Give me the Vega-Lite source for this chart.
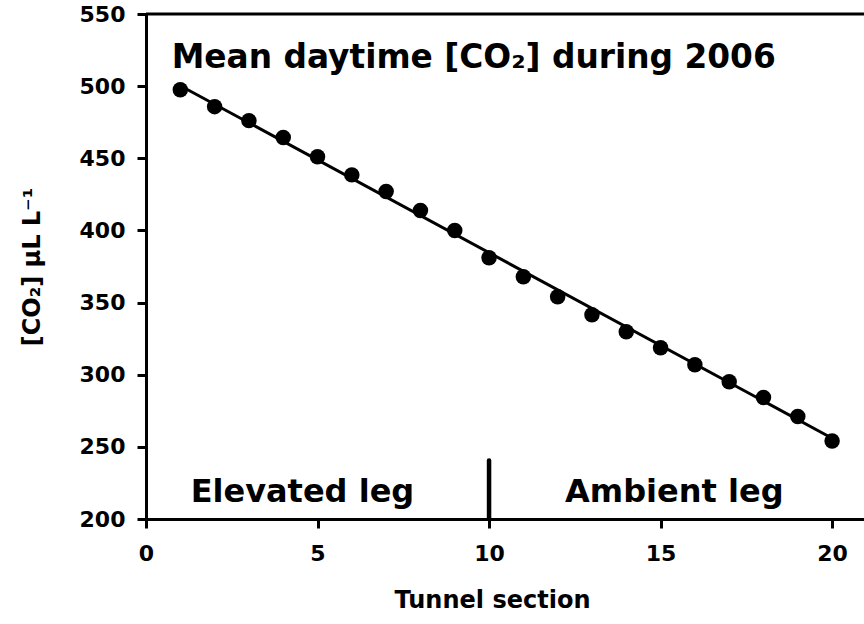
{
  "$schema": "https://vega.github.io/schema/vega-lite/v6.json",
  "width": 718,
  "height": 505,
  "autosize": {"type": "none"},
  "padding": {"left": 146, "top": 14, "right": 0, "bottom": 105},
  "background": "white",
  "data": {"values": [{}]},
  "config": {
    "view": {"stroke": null},
    "font": "DejaVu Sans",
    "axis": {
      "domainColor": "black",
      "domainWidth": 3,
      "tickColor": "black",
      "tickWidth": 3,
      "tickSize": 9,
      "grid": false,
      "labelFont": "DejaVu Sans",
      "labelFontWeight": "bold",
      "labelFontSize": 22,
      "labelColor": "black",
      "labelFlush": false,
      "titleFont": "DejaVu Sans",
      "titleFontWeight": "bold",
      "titleFontSize": 24,
      "titleColor": "black"
    }
  },
  "datasets": {
    "co2": [
      {"section": 1, "co2": 497.5},
      {"section": 2, "co2": 485.8},
      {"section": 3, "co2": 476.1},
      {"section": 4, "co2": 464.4},
      {"section": 5, "co2": 451.0},
      {"section": 6, "co2": 438.5},
      {"section": 7, "co2": 427.0},
      {"section": 8, "co2": 413.8},
      {"section": 9, "co2": 399.9},
      {"section": 10, "co2": 381.0},
      {"section": 11, "co2": 367.9},
      {"section": 12, "co2": 354.0},
      {"section": 13, "co2": 341.5},
      {"section": 14, "co2": 329.8},
      {"section": 15, "co2": 318.7},
      {"section": 16, "co2": 306.9},
      {"section": 17, "co2": 295.1},
      {"section": 18, "co2": 284.2},
      {"section": 19, "co2": 271.0},
      {"section": 20, "co2": 254.0}
    ],
    "fit": [
      {"section": 1, "co2": 500.3},
      {"section": 20, "co2": 256.0}
    ]
  },
  "encoding": {
    "x": {
      "type": "quantitative",
      "scale": {"domain": [0, 20.93], "nice": false, "zero": false},
      "axis": {"values": [0, 5, 10, 15, 20], "title": "Tunnel section", "labelPadding": 15, "titlePadding": 24, "titleX": 346}
    },
    "y": {
      "type": "quantitative",
      "scale": {"domain": [200, 550], "nice": false, "zero": false},
      "axis": {"values": [200, 250, 300, 350, 400, 450, 500, 550], "title": "[CO₂] μL L⁻¹", "labelPadding": 12, "titlePadding": 35}
    }
  },
  "layer": [
    {
      "mark": {"type": "rule", "color": "black", "strokeWidth": 3},
      "encoding": {"y": {"datum": 550}}
    },
    {
      "data": {"name": "fit"},
      "mark": {"type": "line", "color": "black", "strokeWidth": 3},
      "encoding": {
        "x": {"field": "section", "type": "quantitative"},
        "y": {"field": "co2", "type": "quantitative"}
      }
    },
    {
      "data": {"name": "co2"},
      "mark": {"type": "point", "filled": true, "color": "black", "opacity": 1, "size": 240},
      "encoding": {
        "x": {"field": "section", "type": "quantitative"},
        "y": {"field": "co2", "type": "quantitative"}
      }
    },
    {
      "mark": {"type": "rule", "color": "black", "strokeWidth": 4.5, "strokeCap": "round"},
      "encoding": {"x": {"datum": 10}, "y": {"datum": 200}, "y2": {"datum": 240.6}}
    },
    {
      "mark": {"type": "text", "align": "center", "baseline": "alphabetic", "fontSize": 32, "fontWeight": "bold", "font": "DejaVu Sans", "color": "black", "text": "Elevated leg"},
      "encoding": {"x": {"datum": 4.56}, "y": {"datum": 212}}
    },
    {
      "mark": {"type": "text", "align": "center", "baseline": "alphabetic", "fontSize": 32, "fontWeight": "bold", "font": "DejaVu Sans", "color": "black", "text": "Ambient leg"},
      "encoding": {"x": {"datum": 15.4}, "y": {"datum": 212}}
    },
    {
      "mark": {"type": "text", "align": "left", "baseline": "alphabetic", "fontSize": 32.8, "fontWeight": "bold", "font": "DejaVu Sans", "color": "black", "text": "Mean daytime [CO₂] during 2006"},
      "encoding": {"x": {"datum": 0.75}, "y": {"datum": 512.6}}
    }
  ]
}
